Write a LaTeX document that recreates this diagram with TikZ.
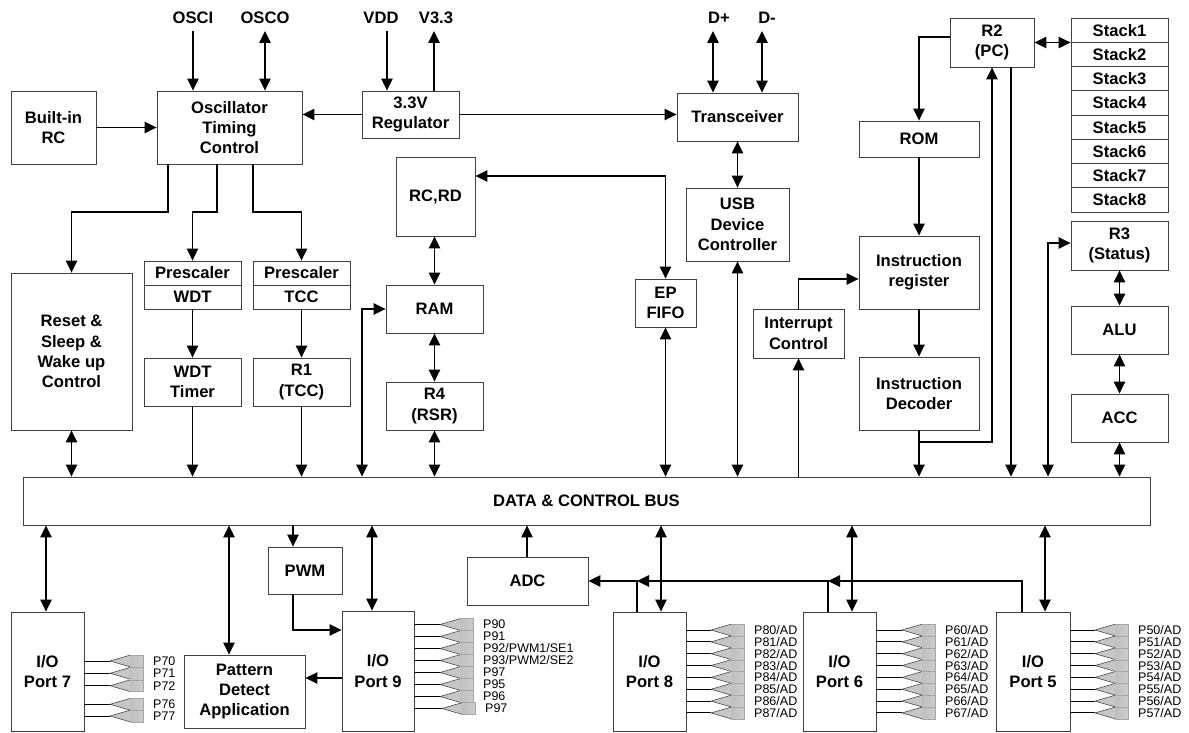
\documentclass[tikz,border=0pt]{standalone}
\usepackage{fontspec}
\setmainfont{Liberation Sans}
\usetikzlibrary{arrows.meta,calc}
\tikzset{
 blkbox/.style={draw=black!75, line width=0.9pt, inner sep=0pt, align=center, font=\fontsize{16.6}{20.3}\selectfont\bfseries},
 lbl/.style={inner sep=0pt, font=\fontsize{16.6}{20}\selectfont\bfseries},
 pinlbl/.style={inner sep=0pt, anchor=west, font=\fontsize{12.5}{12.5}\selectfont},
 conn/.style={line width=1.2pt, black},
 pinline/.style={line width=1pt, black},
}
\newcommand\mkblk[6]{%
 \pgfmathsetmacro\blkw{(#4)-(#2)}\pgfmathsetmacro\blkh{(#5)-(#3)}%
 \pgfmathsetmacro\blkx{((#2)+(#4))/2}\pgfmathsetmacro\blky{((#3)+(#5))/2}%
 \node[blkbox, minimum width=\blkw pt, minimum height=\blkh pt] (#1) at (\blkx,\blky) {#6};}
% port, tip x, y, label, id
\newcommand\mkpin[5]{%
 \coordinate (#5) at (#2,#3);
 \draw[pinline] (#1.east |- #5) -- (#5);
 \fill[gray!45] (#5) -- ++(20,-5.8) -- ++(0,11.6) -- cycle;
 \shade[left color=gray!50, middle color=gray!75, right color=gray!40] ([xshift=20pt,yshift=5.8pt]#5) rectangle ([xshift=33pt,yshift=-5.8pt]#5);
 \draw[black!75, line width=0.55pt] ([xshift=20pt,yshift=5.8pt]#5) -- (#5) -- ([xshift=20pt,yshift=-5.8pt]#5);
 \draw[gray!70, line width=0.5pt] ([xshift=20pt,yshift=5.8pt]#5) -- ([xshift=33pt,yshift=5.8pt]#5) -- ([xshift=33pt,yshift=-5.8pt]#5) -- ([xshift=20pt,yshift=-5.8pt]#5);
 \node[pinlbl] (#5l) at ([xshift=43pt]#5) {#4};}
\begin{document}
\begin{tikzpicture}[x=1pt,y=-1pt,>={Triangle[length=12pt,width=11.5pt]}]
\useasboundingbox (0,0) rectangle (1189,733);
% top labels
\node[lbl] (osci) at (193,18) {OSCI};
\node[lbl] (osco) at (265,18) {OSCO};
\node[lbl] (vdd) at (381,18) {VDD};
\node[lbl] (v33) at (436,18) {V3.3};
\node[lbl] (dp) at (719,18) {D+};
\node[lbl] (dm) at (767,18) {D-};
% blocks
\mkblk{brc}{11}{91}{96}{164}{Built-in\\RC}
\mkblk{osc}{157}{91}{302}{164}{Oscillator\\Timing\\Control}
\mkblk{reg}{362}{91}{459}{138}{3.3V\\Regulator}
\mkblk{trx}{677}{93}{798}{141}{Transceiver}
\mkblk{usb}{686}{188}{789}{261}{USB\\Device\\Controller}
\mkblk{rcrd}{396}{157}{475}{236}{RC,RD}
\mkblk{r2}{950}{18}{1034}{67}{R2\\(PC)}
\foreach \i in {1,...,8}{\mkblk{stk\i}{1071}{18+24.25*(\i-1)}{1168}{18+24.25*\i}{Stack\i}}
\mkblk{rom}{859}{121}{979}{157}{ROM}
\mkblk{ir}{859}{236}{979}{309}{Instruction\\register}
\mkblk{dec}{859}{357}{979}{430}{Instruction\\Decoder}
\mkblk{r3}{1071}{221}{1168}{270}{R3\\(Status)}
\mkblk{alu}{1071}{306}{1168}{354}{ALU}
\mkblk{acc}{1071}{394}{1168}{442}{ACC}
\mkblk{rst}{11}{273}{132}{430}{Reset \&\\Sleep \&\\Wake up\\Control}
\mkblk{pwdt}{144}{261}{241}{309}{}
\mkblk{ptcc}{253}{261}{350}{309}{}
\draw[black!75, line width=0.9pt] (pwdt.west |- 0,285) -- (pwdt.east |- 0,285);
\draw[black!75, line width=0.9pt] (ptcc.west |- 0,285) -- (ptcc.east |- 0,285);
\node[lbl] (pwdt1) at (192.5,273) {Prescaler};
\node[lbl] (pwdt2) at (192.5,297) {WDT};
\node[lbl] (ptcc1) at (301.5,273) {Prescaler};
\node[lbl] (ptcc2) at (301.5,297) {TCC};
\mkblk{wdtt}{144}{358}{241}{406}{WDT\\Timer}
\mkblk{r1}{253}{358}{350}{406}{R1\\(TCC)}
\mkblk{ram}{386}{285}{483}{333}{RAM}
\mkblk{r4}{386}{382}{483}{430}{R4\\(RSR)}
\mkblk{ep}{635}{279}{696}{327}{EP\\FIFO}
\mkblk{intc}{753}{309}{844}{358}{Interrupt\\Control}
\mkblk{bus}{23}{477}{1150}{525}{DATA \& CONTROL BUS}
\mkblk{pwm}{268}{547}{342}{594}{PWM}
\mkblk{adc}{467}{557}{588}{605}{ADC}
\mkblk{p7}{11}{612}{84}{731}{I/O\\Port 7}
\mkblk{pat}{184}{655}{305}{728}{Pattern\\Detect\\Application}
\mkblk{p9}{342}{611}{414}{731}{I/O\\Port 9}
\mkblk{p8}{613}{612}{686}{731}{I/O\\Port 8}
\mkblk{p6}{803}{612}{876}{731}{I/O\\Port 6}
\mkblk{p5}{996}{612}{1070}{731}{I/O\\Port 5}
% top inputs
\coordinate (osciT) at (193,31);
\coordinate (oscoT) at (265,31);
\coordinate (vddT) at (387,31);
\coordinate (v33T) at (434,31);
\coordinate (dpT) at (713,31);
\coordinate (dmT) at (762,31);
\draw[conn,->] (osciT) -- (osciT |- osc.north);
\draw[conn,<->] (oscoT) -- (oscoT |- osc.north);
\draw[conn,->] (vddT) -- (vddT |- reg.north);
\draw[conn,->] (v33T |- reg.north) -- (v33T);
\draw[conn,<->] (dpT) -- (dpT |- trx.north);
\draw[conn,<->] (dmT) -- (dmT |- trx.north);
\draw[conn,->] (brc.east) -- (brc.east -| osc.west);
\draw[conn,->] (reg.west) -- (reg.west -| osc.east);
\draw[conn,->] (reg.east) -- (reg.east -| trx.west);
% oscillator outputs
\coordinate (j1) at (168,212);
\coordinate (j2) at (217,212);
\coordinate (j3) at (253,212);
\draw[conn,->] (osc.south -| j1) -- (j1) -| (rst.north);
\draw[conn,->] (osc.south -| j2) -- (j2) -| (pwdt.north);
\draw[conn,->] (osc.south -| j3) -- (j3) -| (ptcc.north);
\draw[conn,->] (pwdt.south) -- (wdtt.north);
\draw[conn,->] (ptcc.south) -- (r1.north);
\draw[conn,->] (wdtt.south) -- (wdtt.south |- bus.north);
\draw[conn,->] (r1.south) -- (r1.south |- bus.north);
\draw[conn,<->] (rst.south) -- (rst.south |- bus.north);
% RAM
\coordinate (j4) at (362,309);
\draw[conn,<->] (j4 |- bus.north) -- (j4) -- (j4 -| ram.west);
\draw[conn,<->] (ram.north |- rcrd.south) -- (ram.north);
\draw[conn,<->] (ram.south) -- (r4.north);
\draw[conn,<->] (r4.south) -- (r4.south |- bus.north);
\coordinate (j5) at (665,176);
\draw[conn,<->] (j5 -| rcrd.east) -- (j5) -| (ep.north);
\draw[conn,<->] (ep.south) -- (ep.south |- bus.north);
\draw[conn,<->] (trx.south) -- (usb.north);
\draw[conn,<->] (usb.south) -- (usb.south |- bus.north);
\draw[conn,->] (intc.south |- bus.north) -- (intc.south);
\draw[conn,->] (intc.north) |- ([yshift=-6.5pt]ir.west);
% CPU
\coordinate (j6) at (919,37);
\draw[conn,->] (j6 -| r2.west) -- (j6) -- (j6 |- rom.north);
\draw[conn,->] (rom.south) -- (ir.north);
\draw[conn,->] (ir.south) -- (dec.north);
\draw[conn,->] (dec.south) -- (dec.south |- bus.north);
\coordinate (j7) at (992,442);
\draw[conn,->] (dec.south |- j7) -- (j7) -- (j7 |- r2.south);
\coordinate (j8) at (1011,100);
\draw[conn,->] (j8 |- r2.south) -- (j8 |- bus.north);
\draw[conn,<->] (r2.east) -- (r2.east -| stk1.west);
\coordinate (j9) at (1048,243);
\draw[conn,<->] (j9 |- bus.north) -- (j9) -- (j9 -| r3.west);
\draw[conn,<->] (r3.south) -- (alu.north);
\draw[conn,<->] (alu.south) -- (acc.north);
\draw[conn,<->] (acc.south) -- (acc.south |- bus.north);
% bottom
\coordinate (k1) at (46,560);
\coordinate (k2) at (229,560);
\coordinate (k3) at (293,630);
\coordinate (k4) at (372,560);
\coordinate (k5) at (330,678);
\coordinate (k6) at (527,540);
\coordinate (k7) at (661,560);
\coordinate (k8) at (852,560);
\coordinate (k9) at (1045,560);
\draw[conn,<->] (k1 |- bus.south) -- (k1 |- p7.north);
\draw[conn,<->] (k2 |- bus.south) -- (k2 |- pat.north);
\draw[conn,->] (k3 |- bus.south) -- (k3 |- pwm.north);
\draw[conn,->] (k3 |- pwm.south) -- (k3) -- (k3 -| p9.west);
\draw[conn,<->] (k4 |- bus.south) -- (k4 |- p9.north);
\draw[conn,->] (k5 -| p9.west) -- (k5 -| pat.east);
\draw[conn,->] (k6 |- adc.north) -- (k6 |- bus.south);
\draw[conn,<->] (k7 |- bus.south) -- (k7 |- p8.north);
\draw[conn,<->] (k8 |- bus.south) -- (k8 |- p6.north);
\draw[conn,<->] (k9 |- bus.south) -- (k9 |- p5.north);
\coordinate (a8) at (637,581);
\coordinate (a6) at (828,581);
\coordinate (a5) at (1022,581);
\draw[conn,->] (a5 |- p5.north) -- (a5) -- (a6);
\draw[conn,->] (a6 |- p6.north) -- (a6) -- (a8);
\draw[conn,->] (a8 |- p8.north) -- (a8) -- (a8 -| adc.east);
% pins port 7
\mkpin{p7}{110}{661}{P70}{q70}
\mkpin{p7}{110}{673.3}{P71}{q71}
\mkpin{p7}{110}{685.7}{P72}{q72}
\mkpin{p7}{110}{704.3}{P76}{q76}
\mkpin{p7}{110}{716}{P77}{q77}
% port 9
\mkpin{p9}{440}{624.5}{P90}{q90}
\mkpin{p9}{440}{636.5}{P91}{q91}
\mkpin{p9}{440}{648.5}{P92/PWM1/SE1}{q92}
\mkpin{p9}{440}{660.5}{P93/PWM2/SE2}{q93}
\mkpin{p9}{440}{672.5}{P97}{q94}
\mkpin{p9}{440}{684.5}{P95}{q95}
\mkpin{p9}{440}{696.5}{P96}{q96}
\mkpin{p9}{442}{708.5}{P97}{q97}
% ports 8, 6, 5
\foreach \i in {0,...,7}{
 \pgfmathsetmacro\py{630+11.85*\i}
 \mkpin{p8}{711}{\py}{P8\i/AD}{q8\i}
 \mkpin{p6}{902}{\py}{P6\i/AD}{q6\i}
 \mkpin{p5}{1095}{\py}{P5\i/AD}{q5\i}
}
\end{tikzpicture}
\end{document}
